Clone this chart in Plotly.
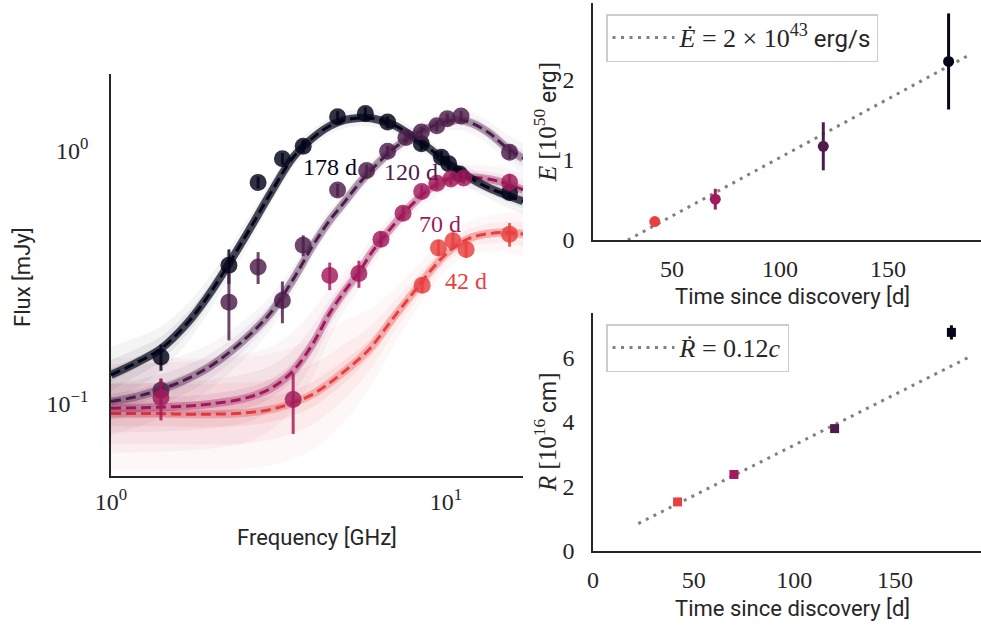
import numpy as np
import plotly.graph_objects as go

# ---------------- data ----------------
EPOCH_LABELS = ["178 d", "120 d", "70 d", "42 d"]
EPOCH_COLORS = ["#03051a", "#4c1d4b", "#a11a5b", "#e83f3f"]

# model (median posterior) curves on a frequency grid [GHz] -> flux [mJy]
FREQ_GRID = [1.0, 1.2, 1.41, 1.7, 2.0, 2.5, 3.0, 3.5, 4.0, 4.5, 5.0, 5.5, 6.0,
             7.0, 8.0, 9.0, 10.0, 11.0, 12.0, 13.5, 15.0, 17.0]
MODEL_178 = [0.130, 0.146, 0.165, 0.21, 0.28, 0.45, 0.68, 0.94, 1.12, 1.25, 1.32, 1.345, 1.34,
             1.26, 1.13, 1.01, 0.90, 0.83, 0.77, 0.71, 0.67, 0.63]
MODEL_120 = [0.102, 0.107, 0.114, 0.126, 0.142, 0.179, 0.229, 0.31, 0.42, 0.53, 0.63, 0.74, 0.84,
             1.02, 1.15, 1.24, 1.30, 1.32, 1.28, 1.17, 1.04, 0.93]
MODEL_70 = [0.096, 0.0965, 0.097, 0.098, 0.100, 0.105, 0.115, 0.135, 0.172, 0.228, 0.28, 0.33, 0.395,
            0.51, 0.62, 0.71, 0.765, 0.785, 0.785, 0.77, 0.745, 0.70]
MODEL_42 = [0.0915, 0.0915, 0.0915, 0.091, 0.091, 0.092, 0.095, 0.101, 0.109, 0.121, 0.135, 0.150, 0.168,
            0.22, 0.275, 0.335, 0.39, 0.43, 0.455, 0.47, 0.475, 0.468]

# posterior spread of the sampled curves [dex]
SPREAD_178 = [0.05, 0.045, 0.04, 0.035, 0.03, 0.025, 0.02, 0.018, 0.016, 0.015, 0.015, 0.015, 0.015,
              0.015, 0.015, 0.015, 0.016, 0.017, 0.018, 0.019, 0.021, 0.024]
SPREAD_120 = [0.06, 0.055, 0.05, 0.045, 0.04, 0.035, 0.03, 0.025, 0.02, 0.018, 0.017, 0.016, 0.016,
              0.016, 0.016, 0.016, 0.017, 0.018, 0.019, 0.021, 0.024, 0.027]
SPREAD_70 = [0.08, 0.08, 0.08, 0.08, 0.08, 0.08, 0.075, 0.07, 0.06, 0.045, 0.035, 0.03, 0.025,
             0.02, 0.02, 0.02, 0.02, 0.021, 0.022, 0.024, 0.027, 0.03]
SPREAD_42 = [0.1, 0.1, 0.1, 0.1, 0.1, 0.1, 0.1, 0.1, 0.1, 0.095, 0.09, 0.08, 0.07,
             0.05, 0.04, 0.035, 0.03, 0.03, 0.03, 0.032, 0.035, 0.04]

# observed spectra
FREQ_178 = [1.41, 2.25, 2.75, 3.25, 3.75, 4.75, 5.75, 6.7, 8.45, 9.7, 10.2, 11.0, 15.5]
FLUX_178 = [0.153, 0.352, 0.748, 0.927, 1.04, 1.36, 1.40, 1.295, 1.063, 0.941, 0.886, 0.808, 0.683]
ERR_178 = [0.018, 0.055, 0.04, 0.05, 0.06, 0.07, 0.08, 0.07, 0.06, 0.055, 0.05, 0.045, 0.04]

FREQ_120 = [1.41, 2.25, 2.75, 3.25, 3.75, 4.75, 5.8, 6.7, 7.6, 8.45, 9.4, 10.1, 11.1, 15.5]
FLUX_120 = [0.113, 0.252, 0.347, 0.256, 0.4225, 0.698, 0.833, 0.994, 1.126, 1.182, 1.251, 1.336, 1.367, 0.985]
ERR_120 = [0.012, 0.074, 0.05, 0.048, 0.04, 0.04, 0.045, 0.05, 0.06, 0.06, 0.06, 0.065, 0.065, 0.06]

FREQ_70 = [1.41, 3.5, 4.5, 5.5, 6.4, 7.45, 8.47, 9.4, 10.35, 11.3, 15.5]
FLUX_70 = [0.106, 0.104, 0.321, 0.327, 0.446, 0.565, 0.689, 0.743, 0.771, 0.778, 0.749]
ERR_70 = [0.02, 0.028, 0.04, 0.04, 0.03, 0.035, 0.04, 0.04, 0.04, 0.04, 0.06]

FREQ_42 = [8.5, 9.5, 10.5, 11.5, 15.5]
FLUX_42 = [0.294, 0.413, 0.44, 0.407, 0.467]
ERR_42 = [0.02, 0.03, 0.035, 0.03, 0.05]

# energy and radius evolution (index order: 178, 120, 70, 42 d)
TIMES = [178, 120, 70, 42]
ENERGY = [2.23, 1.17, 0.51, 0.23]
ENERGY_ERR = [0.60, 0.30, 0.13, 0.01]
RADIUS = [6.77, 3.79, 2.37, 1.52]
RADIUS_ERR = [0.22, 0.05, 0.05, 0.05]

EDOT_LINE_T = [29.5, 187.5]
EDOT_LINE_E = [0.0, 2.31]
RDOT_LINE_T = [22.5, 186.0]
RDOT_LINE_R = [0.85, 5.98]

# ---------------- styling ----------------
W, H = 981, 628
SERIF = "Liberation Serif, DejaVu Serif, serif"
SANS = "Roboto, DejaVu Sans, sans-serif"
INK = "#262626"


def rgba(hexc, a):
    hexc = hexc.lstrip("#")
    r, g, b = int(hexc[0:2], 16), int(hexc[2:4], 16), int(hexc[4:6], 16)
    return f"rgba({r},{g},{b},{a})"


fig = go.Figure()

models = [MODEL_178, MODEL_120, MODEL_70, MODEL_42]
spreads = [SPREAD_178, SPREAD_120, SPREAD_70, SPREAD_42]
core_alpha = [0.7, 0.4, 0.35, 0.3]
band_alpha = [(2.2, 0.045), (1.2, 0.06), (0.5, 0.09)]

# draw bands + median curves (oldest epoch last, so it sits on top)
for idx in [3, 2, 1, 0]:
    m = np.array(models[idx])
    s = np.array(spreads[idx])
    col = EPOCH_COLORS[idx]
    for k, a in band_alpha:
        lo = m * 10 ** (-k * s)
        hi = m * 10 ** (k * s)
        fig.add_trace(go.Scatter(x=FREQ_GRID, y=lo, mode="lines", line=dict(width=0, shape="spline"),
                                 showlegend=False, hoverinfo="skip", xaxis="x", yaxis="y"))
        fig.add_trace(go.Scatter(x=FREQ_GRID, y=hi, mode="lines", line=dict(width=0, shape="spline"),
                                 fill="tonexty", fillcolor=rgba(col, a),
                                 showlegend=False, hoverinfo="skip", xaxis="x", yaxis="y"))
    fig.add_trace(go.Scatter(x=FREQ_GRID, y=m, mode="lines",
                             line=dict(width=8, color=rgba(col, core_alpha[idx]), shape="spline"),
                             showlegend=False, hoverinfo="skip", xaxis="x", yaxis="y"))
    fig.add_trace(go.Scatter(x=FREQ_GRID, y=m, mode="lines",
                             line=dict(width=3, color=col, dash="10px,5px", shape="spline"),
                             showlegend=False, hoverinfo="skip", xaxis="x", yaxis="y"))

# observed points
obs = [(FREQ_178, FLUX_178, ERR_178), (FREQ_120, FLUX_120, ERR_120),
       (FREQ_70, FLUX_70, ERR_70), (FREQ_42, FLUX_42, ERR_42)]
for idx, (fx, fy, fe) in enumerate(obs):
    col = EPOCH_COLORS[idx]
    fig.add_trace(go.Scatter(x=fx, y=fy, mode="markers",
                             marker=dict(size=17, color=rgba(col, 0.82), line=dict(width=0)),
                             error_y=dict(type="data", array=fe, visible=True, thickness=3, width=0,
                                          color=rgba(col, 0.82)),
                             showlegend=False, xaxis="x", yaxis="y"))

# epoch labels
LABEL_POS = [(4.52, 0.864), (7.87, 0.825), (9.6, 0.513), (11.5, 0.305)]
annotations = []
for idx, (lx, ly) in enumerate(LABEL_POS):
    annotations.append(dict(x=np.log10(lx), y=np.log10(ly), xref="x", yref="y", text=EPOCH_LABELS[idx],
                            showarrow=False, font=dict(family=SERIF, size=24, color=EPOCH_COLORS[idx]),
                            xanchor="center", yanchor="middle"))

SER_SPAN = "<span style='font-family:Liberation Serif;font-size:26px'>"

# energy panel
fig.add_trace(go.Scatter(x=EDOT_LINE_T, y=EDOT_LINE_E, mode="lines",
                         line=dict(color="#808080", width=3, dash="3px,5.5px"),
                         name=SER_SPAN + "<i>Ė</i> = 2 × 10<sup>43</sup></span> erg/s",
                         showlegend=True, legend="legend", xaxis="x2", yaxis="y2"))
for idx in range(4):
    col = EPOCH_COLORS[idx]
    fig.add_trace(go.Scatter(x=[TIMES[idx]], y=[ENERGY[idx]], mode="markers",
                             marker=dict(size=11, color=col),
                             error_y=dict(type="data", array=[ENERGY_ERR[idx]], visible=True,
                                          thickness=3, width=0, color=col),
                             showlegend=False, xaxis="x2", yaxis="y2"))

# radius panel
fig.add_trace(go.Scatter(x=RDOT_LINE_T, y=RDOT_LINE_R, mode="lines",
                         line=dict(color="#808080", width=3, dash="3px,5.5px"),
                         name=SER_SPAN + "<i>Ṙ</i> = 0.12<i>c</i></span>",
                         showlegend=True, legend="legend2", xaxis="x3", yaxis="y3"))
for idx in range(4):
    col = EPOCH_COLORS[idx]
    fig.add_trace(go.Scatter(x=[TIMES[idx]], y=[RADIUS[idx]], mode="markers",
                             marker=dict(size=9, color=col, symbol="square"),
                             error_y=dict(type="data", array=[RADIUS_ERR[idx]], visible=True,
                                          thickness=3, width=0, color=col),
                             showlegend=False, xaxis="x3", yaxis="y3"))


# axis titles
def ann(text, x, y, angle=0, family=SANS, size=22):
    return dict(text=text, x=x / W, y=1 - y / H, xref="paper", yref="paper", showarrow=False,
                textangle=angle, font=dict(family=family, size=size, color=INK),
                xanchor="center", yanchor="middle")


annotations += [
    ann("Frequency [GHz]", 317, 537),
    ann("Flux [mJy]", 22, 277, angle=-90),
    ann("Time since discovery [d]", 792, 297),
    ann("Time since discovery [d]", 792, 608),
    ann("<span style='font-family:Liberation Serif;font-size:25px'><i>E</i> [10<sup>50</sup></span> erg"
        "<span style='font-family:Liberation Serif;font-size:25px'>]</span>", 545, 122, angle=-90, size=23),
    ann("<span style='font-family:Liberation Serif;font-size:25px'><i>R</i> [10<sup>16</sup></span> cm"
        "<span style='font-family:Liberation Serif;font-size:25px'>]</span>", 545, 432, angle=-90, size=23),
]

axis_common = dict(showline=True, linecolor=INK, linewidth=1.6, showgrid=False, zeroline=False,
                   ticks="", tickfont=dict(family=SERIF, size=24, color=INK), mirror=False,
                   automargin=False)

fig.update_layout(
    width=W, height=H, margin=dict(l=0, r=0, t=0, b=0),
    paper_bgcolor="white", plot_bgcolor="white",
    xaxis=dict(type="log", range=[0, np.log10(17.0)], domain=[111 / W, 523 / W], anchor="y",
               tickvals=[1, 10], ticktext=["10<sup>0</sup>", "10<sup>1</sup>"], ticklabelstandoff=3,
               **axis_common),
    yaxis=dict(type="log", range=[-1.285, 0.302], domain=[1 - 476 / H, 1 - 74 / H], anchor="x",
               tickvals=[0.1, 1], ticktext=["10<sup>−1</sup>", "10<sup>0</sup>"], ticklabelstandoff=16,
               **axis_common),
    xaxis2=dict(range=[13.4, 193.0], domain=[593 / W, 1.0], anchor="y2",
                tickvals=[50, 100, 150], ticklabelstandoff=6, **axis_common),
    yaxis2=dict(range=[0, 2.96], domain=[1 - 240 / H, 1 - 3 / H], anchor="x2",
                tickvals=[0, 1, 2], ticklabelstandoff=12, **axis_common),
    xaxis3=dict(range=[0, 192.7], domain=[593 / W, 1.0], anchor="y3",
                tickvals=[0, 50, 100, 150], ticklabelstandoff=6, **axis_common),
    yaxis3=dict(range=[0, 7.37], domain=[1 - 551 / H, 1 - 313 / H], anchor="x3",
                tickvals=[0, 2, 4, 6], ticklabelstandoff=12, **axis_common),
    legend=dict(x=606 / W, y=1 - 14 / H, xanchor="left", yanchor="top", bgcolor="white",
                bordercolor="#cccccc", borderwidth=1.5, font=dict(family=SANS, size=24, color=INK),
                itemwidth=62),
    legend2=dict(x=606 / W, y=1 - 324 / H, xanchor="left", yanchor="top", bgcolor="white",
                 bordercolor="#cccccc", borderwidth=1.5, font=dict(family=SANS, size=24, color=INK),
                 itemwidth=62),
    annotations=annotations,
    showlegend=True,
)

fig.write_html(
    "out.html",
    config={"displayModeBar": False},
    post_script="document.body.style.margin='0';document.body.style.padding='0';"
                "document.body.style.overflow='hidden';",
)
